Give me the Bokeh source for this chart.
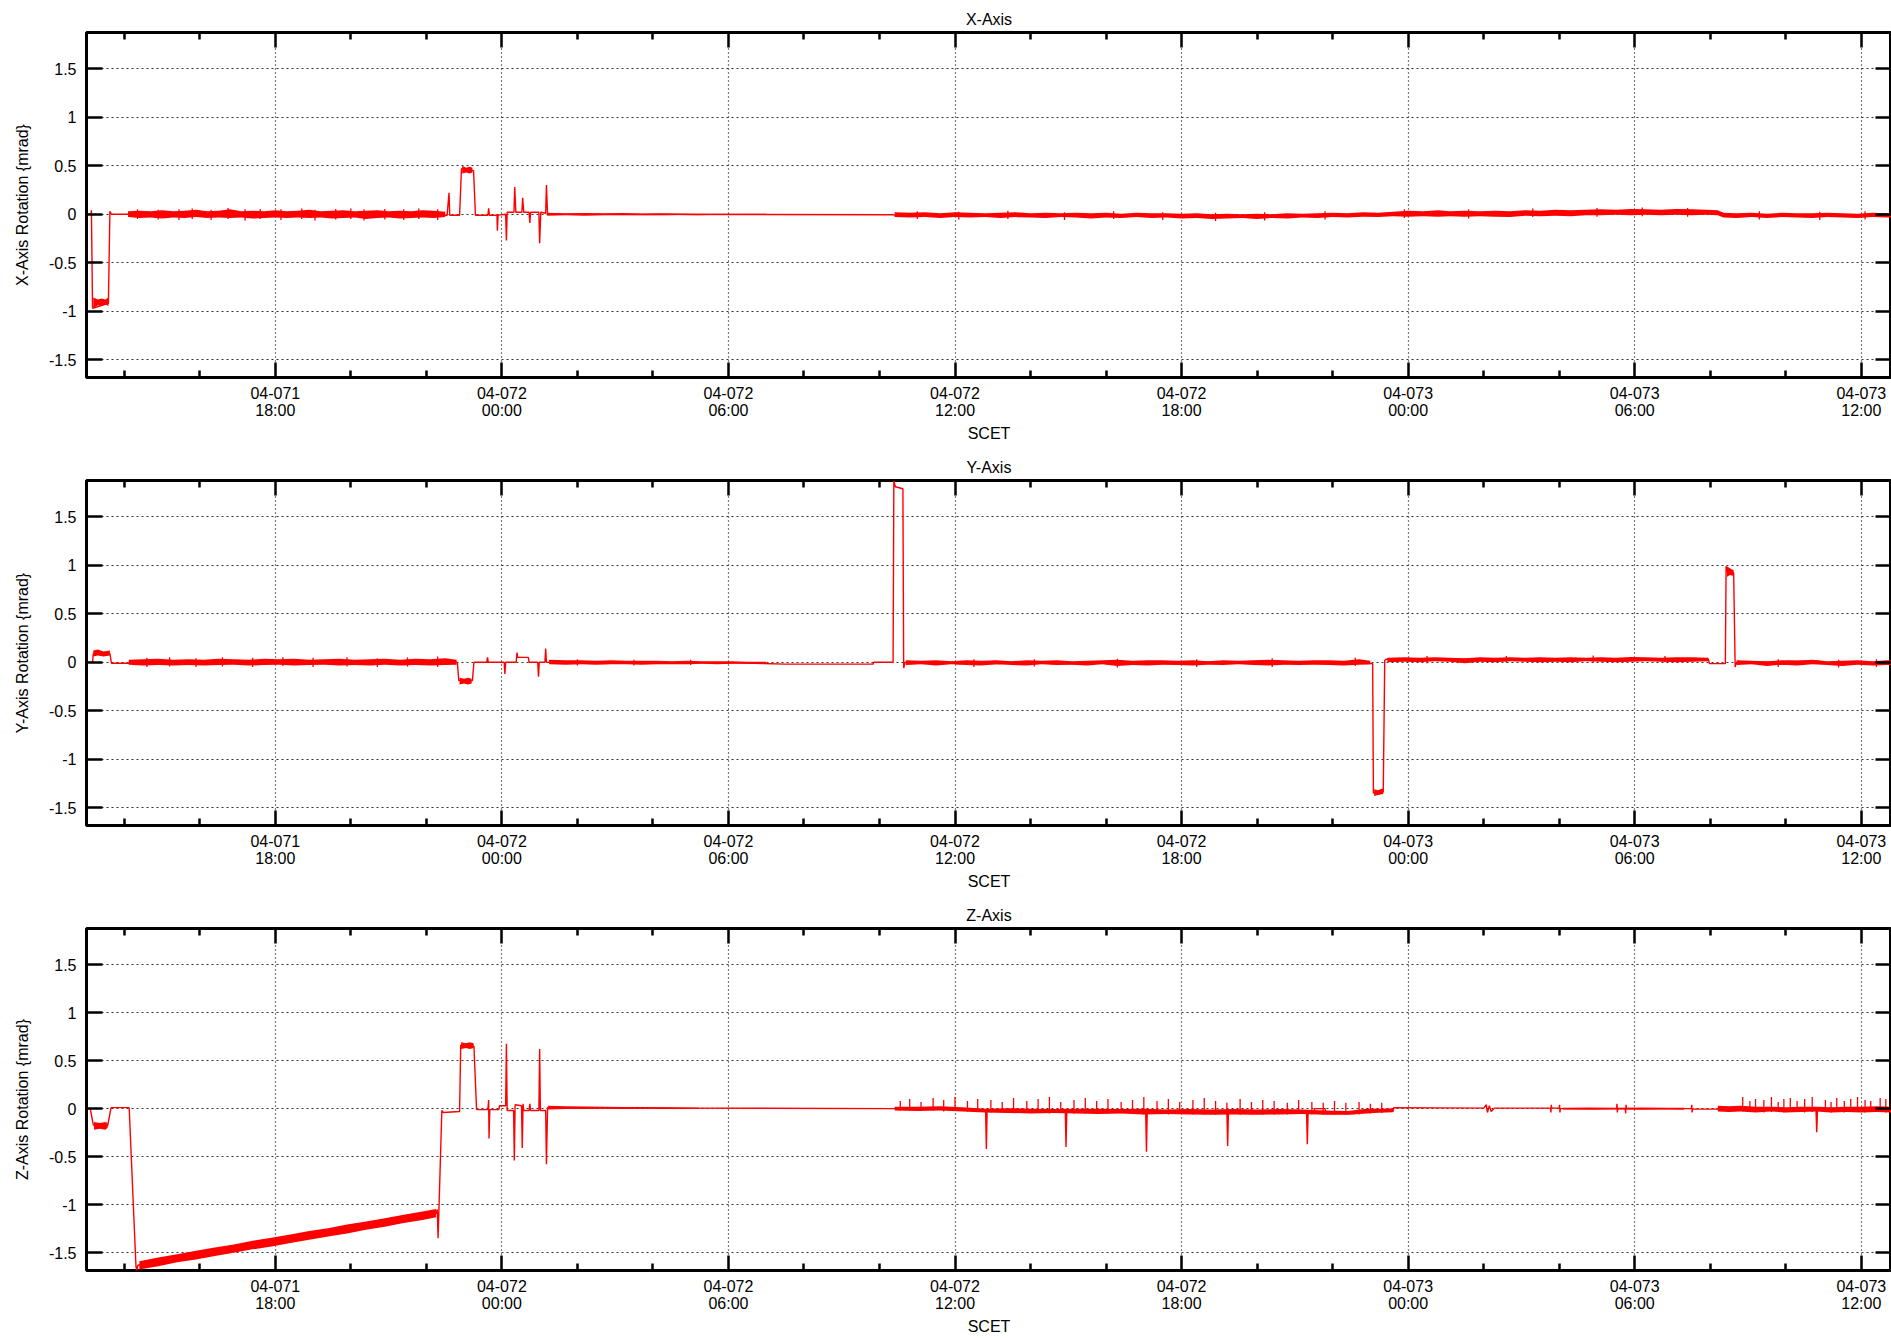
from bokeh.plotting import figure
from bokeh.layouts import column
from bokeh.models import Range1d, FixedTicker, LinearAxis, CustomLabelingPolicy
from bokeh.embed import file_html
from bokeh.resources import INLINE

FONT = "Liberation Sans"
RED = "#ff0000"

# ---------------- axes / ticks (hours since 04-071 00:00) ----------------
x_start, x_end = 13.0, 60.80
y_min, y_max = -1.685, 1.875
x_tick_hours = [18, 24, 30, 36, 42, 48, 54, 60]
x_tick_labels = ["04-071\n18:00", "04-072\n00:00", "04-072\n06:00", "04-072\n12:00",
                 "04-072\n18:00", "04-073\n00:00", "04-073\n06:00", "04-073\n12:00"]
x_minor_hours = [14, 16, 20, 22, 26, 28, 32, 34, 38, 40, 44, 46, 50, 52, 56, 58]
y_tick_values = [-1.5, -1.0, -0.5, 0.0, 0.5, 1.0, 1.5]
y_tick_labels = ["-1.5", "-1", "-0.5", "0", "0.5", "1", "1.5"]

titles = ["X-Axis", "Y-Axis", "Z-Axis"]
ylabels = ["X-Axis Rotation {mrad}", "Y-Axis Rotation {mrad}", "Z-Axis Rotation {mrad}"]
xlabel = "SCET"

# ---------------- X-axis rotation ----------------
x_base_t = [13.0, 13.12, 13.13, 13.16, 13.58, 13.62, 13.66, 14.1, 22.55, 22.6, 22.62, 22.64, 22.88,
            22.93, 23.25, 23.3, 23.63, 23.65, 23.67, 23.87, 23.88, 23.9, 24.1, 24.12, 24.14, 24.32,
            24.34, 24.37, 24.53, 24.55, 24.58, 24.72, 24.74, 24.76, 24.98, 25.0, 25.03, 25.16, 25.18,
            25.21, 34.35, 34.4, 42.3, 47.5, 51.0, 53.0, 56.3, 56.35, 61.0]
x_base_v = [0.0, 0.0, 0.04, -0.97, -0.92, 0.03, 0.0, 0.0, -0.01, 0.22, -0.01, -0.01, -0.01,
            0.47, 0.45, -0.01, -0.01, 0.06, -0.01, -0.01, -0.17, -0.01, 0.0, -0.27, 0.02, 0.02,
            0.28, 0.02, 0.02, 0.17, 0.02, 0.02, -0.09, 0.02, 0.02, -0.30, 0.02, 0.01, 0.30,
            0.0, -0.005, -0.01, -0.02, 0.0, 0.01, 0.02, 0.015, -0.01, -0.01]
x_band = [
    (13.18, -0.97, -0.86), (13.3, -0.94, -0.88), (13.4, -0.95, -0.87), (13.5, -0.93, -0.88), (13.58, -0.95, -0.86),
    None,
    (14.1, -0.03, 0.03), (14.4, -0.04, 0.035), (14.7, -0.035, 0.03), (15.0, -0.045, 0.04), (15.3, -0.035, 0.03),
    (15.6, -0.04, 0.035), (15.9, -0.03, 0.045), (16.2, -0.04, 0.03), (16.5, -0.035, 0.035), (16.8, -0.04, 0.05),
    (17.1, -0.035, 0.03), (17.4, -0.045, 0.035), (17.7, -0.04, 0.03), (18.0, -0.035, 0.04), (18.3, -0.04, 0.03),
    (18.6, -0.035, 0.035), (18.9, -0.04, 0.045), (19.2, -0.035, 0.03), (19.5, -0.045, 0.035), (19.8, -0.04, 0.04),
    (20.1, -0.035, 0.03), (20.4, -0.05, 0.035), (20.7, -0.04, 0.04), (21.0, -0.035, 0.03), (21.3, -0.045, 0.035),
    (21.6, -0.04, 0.03), (21.9, -0.035, 0.04), (22.2, -0.04, 0.035), (22.5, -0.03, 0.025),
    None,
    (22.95, 0.42, 0.50), (23.05, 0.43, 0.48), (23.15, 0.42, 0.49), (23.22, 0.43, 0.48),
    None,
    (25.2, -0.015, 0.015), (25.7, -0.012, 0.01), (26.2, -0.015, 0.012), (26.7, -0.01, 0.01), (27.2, -0.012, 0.012),
    (27.7, -0.01, 0.008), (28.2, -0.012, 0.01), (28.7, -0.008, 0.008), (29.2, -0.01, 0.006), (29.7, -0.006, 0.006),
    (30.2, -0.006, 0.005), (31.0, -0.006, 0.004),
    None,
    (34.4, -0.03, 0.02), (34.8, -0.035, 0.015), (35.2, -0.03, 0.02), (35.6, -0.04, 0.01), (36.0, -0.03, 0.02),
    (36.4, -0.035, 0.015), (36.8, -0.03, 0.01), (37.2, -0.04, 0.015), (37.6, -0.03, 0.02), (38.0, -0.035, 0.01),
    (38.4, -0.04, 0.015), (38.8, -0.03, 0.01), (39.2, -0.035, 0.015), (39.6, -0.045, 0.01), (40.0, -0.035, 0.015),
    (40.4, -0.04, 0.005), (40.8, -0.03, 0.015), (41.2, -0.04, 0.01), (41.6, -0.035, 0.01), (42.0, -0.045, 0.005),
    (42.4, -0.04, 0.01), (42.8, -0.05, 0.0), (43.2, -0.045, 0.005), (43.6, -0.04, 0.0), (44.0, -0.05, 0.005),
    (44.4, -0.04, 0.0), (44.8, -0.045, 0.01), (45.2, -0.035, 0.005), (45.6, -0.04, 0.01), (46.0, -0.03, 0.015),
    (46.4, -0.035, 0.01), (46.8, -0.025, 0.02), (47.2, -0.03, 0.015), (47.6, -0.02, 0.025), (48.0, -0.025, 0.035),
    (48.4, -0.02, 0.03), (48.8, -0.025, 0.04), (49.1, -0.02, 0.03), (49.5, -0.025, 0.035), (49.9, -0.02, 0.03),
    (50.3, -0.025, 0.035), (50.7, -0.03, 0.03), (51.1, -0.015, 0.04), (51.5, -0.02, 0.035), (51.9, -0.015, 0.045),
    (52.3, -0.02, 0.04), (52.7, -0.01, 0.045), (53.1, -0.01, 0.05), (53.5, -0.005, 0.045), (53.9, -0.01, 0.055),
    (54.3, -0.005, 0.05), (54.7, -0.01, 0.045), (55.1, -0.005, 0.055), (55.5, -0.01, 0.05), (55.9, -0.005, 0.045),
    (56.2, -0.01, 0.04), (56.35, -0.035, 0.015), (56.7, -0.04, 0.01), (57.1, -0.03, 0.015), (57.5, -0.04, 0.005),
    (57.9, -0.03, 0.015), (58.3, -0.035, 0.01), (58.7, -0.04, 0.01), (59.1, -0.03, 0.015), (59.5, -0.035, 0.01),
    (59.9, -0.04, 0.005), (60.3, -0.03, 0.015), (60.7, -0.035, 0.01), (61.0, -0.03, 0.01),
]
x_spikes = [
    (14.35, -0.05, 0.05), (14.9, -0.055, 0.045), (15.45, -0.06, 0.05), (15.8, -0.05, 0.06), (16.3, -0.06, 0.045),
    (16.75, -0.05, 0.065), (17.2, -0.065, 0.05), (17.6, -0.05, 0.055), (18.15, -0.06, 0.05), (18.7, -0.05, 0.06),
    (19.05, -0.065, 0.045), (19.6, -0.055, 0.055), (20.0, -0.05, 0.06), (20.35, -0.065, 0.05), (20.9, -0.055, 0.055),
    (21.4, -0.06, 0.05), (21.8, -0.05, 0.06), (22.3, -0.06, 0.05),
    (35.0, -0.05, 0.03), (36.1, -0.055, 0.025), (37.4, -0.05, 0.035), (38.9, -0.06, 0.02), (40.2, -0.05, 0.03),
    (41.5, -0.06, 0.02), (42.9, -0.07, 0.015), (44.2, -0.065, 0.02), (45.8, -0.055, 0.03), (47.9, -0.04, 0.05),
    (49.6, -0.045, 0.05), (51.3, -0.03, 0.06), (53.0, -0.025, 0.065), (54.2, -0.02, 0.07), (55.4, -0.025, 0.065),
    (57.3, -0.055, 0.03), (58.9, -0.06, 0.025), (60.1, -0.055, 0.03),
]

# ---------------- Y-axis rotation ----------------
y_base_t = [13.0, 13.16, 13.18, 13.62, 13.66, 14.12, 14.14, 22.82, 22.86, 23.22,
            23.26, 23.6, 23.62, 23.64, 24.06, 24.08, 24.1, 24.38, 24.4, 24.42,
            24.7, 24.72, 24.95, 24.97, 24.99, 25.14, 25.16, 25.18, 30.2, 31.5,
            33.83, 33.85, 34.36, 34.38, 34.42, 34.62, 34.64, 34.68, 36.0, 36.02,
            37.2, 37.22, 38.5, 38.52, 39.3, 39.32, 41.0, 41.02, 42.0, 42.02,
            44.0, 44.02, 44.8, 44.82, 46.8, 46.82, 47.06, 47.08, 47.34, 47.38,
            47.42, 55.95, 55.98, 56.4, 56.42, 56.46, 56.62, 56.66, 56.7, 57.5,
            57.52, 58.0, 58.02, 58.9, 58.92, 61.0]
y_base_v = [0.0, 0.0, 0.09, 0.09, -0.01, -0.01, 0.0, 0.0, -0.19, -0.19,
            0.0, 0.0, 0.05, 0.0, 0.0, -0.12, 0.0, 0.0, 0.1, 0.05,
            0.05, 0.0, 0.0, -0.15, 0.0, 0.0, 0.14, 0.0, -0.005, -0.02,
            -0.02, 0.0, 0.0, 1.87, 1.81, 1.79, -0.06, 0.0, 0.0, -0.015,
            -0.015, 0.0, 0.0, -0.015, -0.015, 0.005, 0.005, -0.015, -0.015, 0.0,
            0.0, -0.015, -0.015, 0.0, 0.0, -0.015, -0.015, -1.35, -1.34, 0.02,
            0.03, 0.03, -0.015, -0.015, 0.99, 0.93, 0.92, -0.05, 0.0, 0.0,
            -0.02, -0.02, 0.01, 0.01, -0.01, -0.01]
y_band = [
    (13.18, 0.06, 0.12), (13.3, 0.07, 0.13), (13.45, 0.06, 0.11), (13.62, 0.07, 0.12),
    None,
    (14.12, -0.025, 0.025), (14.5, -0.035, 0.03), (14.9, -0.03, 0.035), (15.3, -0.035, 0.025), (15.7, -0.03, 0.03),
    (16.1, -0.035, 0.025), (16.5, -0.03, 0.035), (16.9, -0.025, 0.03), (17.3, -0.035, 0.025), (17.7, -0.03, 0.035),
    (18.1, -0.025, 0.03), (18.5, -0.035, 0.035), (18.9, -0.03, 0.025), (19.3, -0.025, 0.03), (19.7, -0.035, 0.035),
    (20.1, -0.03, 0.025), (20.5, -0.035, 0.03), (20.9, -0.025, 0.035), (21.3, -0.035, 0.025), (21.7, -0.03, 0.035),
    (22.1, -0.035, 0.03), (22.5, -0.03, 0.04), (22.8, -0.025, 0.025),
    None,
    (22.88, -0.23, -0.16), (23.0, -0.22, -0.17), (23.1, -0.23, -0.16), (23.2, -0.22, -0.17),
    None,
    (25.25, -0.02, 0.025), (25.7, -0.025, 0.02), (26.1, -0.02, 0.02), (26.5, -0.025, 0.015), (26.9, -0.02, 0.02),
    (27.3, -0.02, 0.015), (27.7, -0.025, 0.015), (28.1, -0.02, 0.015), (28.5, -0.02, 0.01), (28.9, -0.02, 0.015),
    (29.3, -0.015, 0.01), (29.7, -0.02, 0.01), (30.1, -0.015, 0.01), (30.5, -0.015, 0.005), (31.0, -0.015, 0.005),
    None,
    (34.7, -0.03, 0.02), (35.1, -0.02, 0.015), (35.5, -0.035, 0.02), (35.9, -0.02, 0.01), (36.3, -0.03, 0.02),
    (36.7, -0.035, 0.015), (37.1, -0.02, 0.02), (37.5, -0.03, 0.01), (37.9, -0.035, 0.02), (38.3, -0.02, 0.015),
    (38.7, -0.03, 0.02), (39.1, -0.025, 0.01), (39.5, -0.035, 0.015), (39.9, -0.02, 0.02), (40.3, -0.04, 0.025),
    (40.7, -0.03, 0.015), (41.1, -0.035, 0.02), (41.5, -0.025, 0.02), (41.9, -0.03, 0.015), (42.3, -0.035, 0.02),
    (42.7, -0.025, 0.01), (43.1, -0.03, 0.02), (43.5, -0.02, 0.015), (43.9, -0.03, 0.02), (44.3, -0.035, 0.025),
    (44.7, -0.025, 0.02), (45.1, -0.03, 0.015), (45.5, -0.025, 0.02), (45.9, -0.03, 0.02), (46.3, -0.035, 0.015),
    (46.7, -0.025, 0.03), (47.0, -0.02, 0.015),
    None,
    (47.1, -1.38, -1.31), (47.2, -1.37, -1.32), (47.34, -1.36, -1.30),
    None,
    (47.45, 0.0, 0.045), (47.9, 0.005, 0.05), (48.3, 0.0, 0.045), (48.7, 0.01, 0.05), (49.1, 0.005, 0.045),
    (49.5, -0.01, 0.04), (49.9, 0.005, 0.05), (50.3, 0.0, 0.045), (50.7, 0.01, 0.05), (51.1, 0.005, 0.045),
    (51.5, 0.0, 0.05), (51.9, 0.005, 0.045), (52.3, 0.0, 0.05), (52.7, 0.01, 0.045), (53.1, 0.005, 0.05),
    (53.5, 0.0, 0.045), (53.9, 0.005, 0.055), (54.3, 0.01, 0.05), (54.7, 0.005, 0.045), (55.1, 0.0, 0.05),
    (55.5, 0.005, 0.05), (55.95, 0.01, 0.045),
    None,
    (56.44, 0.88, 0.99), (56.52, 0.90, 0.97), (56.62, 0.89, 0.95),
    None,
    (56.7, -0.03, 0.02), (57.1, -0.02, 0.015), (57.5, -0.04, 0.01), (57.9, -0.025, 0.02), (58.3, -0.035, 0.015),
    (58.7, -0.02, 0.025), (59.1, -0.03, 0.01), (59.5, -0.04, 0.015), (59.9, -0.025, 0.02), (60.3, -0.035, 0.01),
    (60.7, -0.03, 0.02), (61.0, -0.03, 0.015),
]
y_spikes = [
    (14.6, -0.05, 0.045), (15.2, -0.045, 0.05), (15.9, -0.05, 0.04), (16.6, -0.045, 0.05), (17.4, -0.05, 0.045),
    (18.2, -0.04, 0.05), (19.0, -0.05, 0.045), (19.9, -0.045, 0.05), (20.7, -0.05, 0.04), (21.5, -0.045, 0.05),
    (22.3, -0.05, 0.06), (26.0, -0.035, 0.03), (27.5, -0.035, 0.025), (29.0, -0.03, 0.025), (36.5, -0.05, 0.03),
    (38.1, -0.045, 0.03), (40.3, -0.055, 0.035), (42.4, -0.05, 0.03), (44.4, -0.05, 0.04), (46.6, -0.04, 0.045),
    (48.5, -0.01, 0.065), (50.6, -0.005, 0.065), (52.9, -0.005, 0.07), (54.8, 0.0, 0.065), (57.8, -0.05, 0.03),
    (59.4, -0.055, 0.025), (60.4, -0.05, 0.03),
]

# ---------------- Z-axis rotation ----------------
z_base_t = [13.0, 13.1, 13.18, 13.56, 13.65, 14.13, 14.31, 14.33, 14.36, 22.26,
            22.29, 22.31, 22.33, 22.41, 22.45, 22.88, 22.91, 23.26, 23.33, 23.63,
            23.65, 23.66, 23.68, 23.92, 23.94, 24.1, 24.12, 24.14, 24.31, 24.33,
            24.35, 24.52, 24.54, 24.56, 24.58, 24.72, 24.74, 24.76, 24.98, 25.0,
            25.02, 25.16, 25.18, 25.21, 29.0, 34.37, 36.5, 36.81, 36.83, 36.85,
            38.92, 38.94, 38.96, 41.05, 41.07, 41.09, 43.2, 43.22, 43.24, 45.31,
            45.33, 45.35, 45.5, 45.52, 45.8, 45.82, 46.6, 46.62, 47.6, 47.62,
            50.0, 50.07, 50.1, 50.15, 50.2, 50.28, 51.77, 51.78, 51.79, 51.8,
            52.0, 52.01, 52.02, 52.03, 53.52, 53.53, 53.54, 53.55, 53.75, 53.76,
            53.77, 53.78, 55.5, 55.51, 55.52, 55.53, 56.2, 56.9, 58.8, 58.82,
            58.84, 61.0]
z_base_v = [0.0, 0.0, -0.17, -0.18, 0.01, 0.01, -1.64, -1.69, -1.63, -1.09,
            -1.05, -1.35, -1.1, -0.02, -0.04, -0.03, 0.66, 0.65, -0.01, -0.01,
            0.09, -0.31, -0.01, -0.01, 0.03, 0.03, 0.675, -0.02, -0.02, -0.54,
            0.04, 0.03, -0.41, 0.05, -0.02, -0.02, 0.05, -0.02, -0.02, 0.62,
            -0.02, -0.02, -0.58, 0.01, 0.005, 0.0, -0.01, -0.02, -0.42, -0.02,
            -0.03, -0.40, -0.03, -0.04, -0.45, -0.04, -0.04, -0.39, -0.045, -0.04,
            -0.37, -0.04, -0.04, 0.0, 0.0, -0.05, -0.05, -0.03, -0.03, 0.01,
            0.005, 0.04, -0.04, 0.03, -0.03, 0.005, 0.005, -0.04, 0.04, 0.005,
            0.005, 0.04, -0.04, 0.0, 0.0, 0.05, -0.04, 0.0, 0.0, -0.05,
            0.04, 0.0, 0.0, 0.04, -0.04, -0.005, -0.005, 0.0, -0.01, -0.245,
            -0.01, 0.0]
z_band = [
    (13.2, -0.22, -0.14), (13.35, -0.21, -0.15), (13.5, -0.22, -0.14), (13.56, -0.20, -0.15),
    None,
    (14.4, -1.675, -1.59), (14.9, -1.64, -1.55), (15.4, -1.60, -1.515), (15.9, -1.57, -1.48), (16.4, -1.535, -1.445),
    (16.9, -1.50, -1.415), (17.4, -1.465, -1.375), (17.9, -1.435, -1.345), (18.4, -1.40, -1.31), (18.9, -1.365, -1.275),
    (19.4, -1.33, -1.245), (19.9, -1.30, -1.205), (20.4, -1.26, -1.175), (20.9, -1.23, -1.14), (21.4, -1.19, -1.105),
    (21.9, -1.16, -1.07), (22.26, -1.13, -1.045),
    None,
    (22.92, 0.62, 0.69), (23.05, 0.63, 0.68), (23.15, 0.62, 0.69), (23.25, 0.63, 0.68),
    None,
    (25.22, -0.01, 0.03), (25.7, -0.005, 0.025), (26.2, -0.005, 0.022), (26.7, -0.002, 0.02), (27.2, -0.005, 0.018),
    (27.7, -0.002, 0.016), (28.2, -0.004, 0.015), (28.7, -0.003, 0.012), (29.2, -0.002, 0.01),
    None,
    (34.4, -0.02, 0.02), (35.0, -0.025, 0.02), (35.6, -0.02, 0.025), (36.2, -0.03, 0.015), (36.8, -0.04, 0.0),
    (37.4, -0.045, 0.005), (38.0, -0.05, 0.0), (38.6, -0.045, -0.005), (39.2, -0.05, 0.0), (39.8, -0.055, 0.0),
    (40.4, -0.05, -0.005), (41.0, -0.06, 0.0), (41.6, -0.055, -0.01), (42.2, -0.06, -0.005), (42.8, -0.065, -0.01),
    (43.4, -0.06, -0.005), (44.0, -0.065, -0.01), (44.6, -0.06, -0.005), (45.2, -0.055, -0.01), (45.8, -0.065, -0.02),
    (46.4, -0.065, -0.025), (46.9, -0.05, 0.0), (47.3, -0.04, 0.0), (47.6, -0.035, 0.005),
    None,
    (52.1, -0.01, 0.01), (52.8, -0.012, 0.012), (53.5, -0.01, 0.01), (54.2, -0.012, 0.012), (54.9, -0.01, 0.01),
    (55.3, -0.012, 0.01),
    None,
    (56.2, -0.03, 0.03), (56.5, -0.035, 0.025), (56.8, -0.03, 0.03), (57.2, -0.04, 0.02), (57.6, -0.03, 0.02),
    (58.0, -0.04, 0.015), (58.4, -0.035, 0.02), (58.8, -0.03, 0.02), (59.2, -0.04, 0.015), (59.6, -0.035, 0.02),
    (60.0, -0.04, 0.02), (60.4, -0.035, 0.025), (60.8, -0.04, 0.02), (61.0, -0.035, 0.02),
]
z_spikes = [
    (34.55, -0.02, 0.08), (34.8, -0.02, 0.1), (35.1, -0.025, 0.07), (35.42, -0.02, 0.11), (35.7, -0.03, 0.09),
    (36.0, -0.02, 0.12), (36.33, -0.03, 0.08), (36.6, -0.035, 0.1), (36.95, -0.04, 0.09), (37.25, -0.04, 0.07),
    (37.55, -0.045, 0.11), (37.9, -0.04, 0.08), (38.2, -0.045, 0.1), (38.5, -0.05, 0.12), (38.8, -0.045, 0.07),
    (39.15, -0.05, 0.09), (39.45, -0.05, 0.11), (39.75, -0.055, 0.08), (40.05, -0.05, 0.1), (40.4, -0.05, 0.07),
    (40.7, -0.055, 0.09), (41.0, -0.06, 0.12), (41.35, -0.055, 0.08), (41.65, -0.06, 0.1), (41.95, -0.055, 0.07),
    (42.3, -0.06, 0.09), (42.6, -0.06, 0.11), (42.9, -0.065, 0.08), (43.2, -0.06, 0.06), (43.55, -0.065, 0.1),
    (43.85, -0.06, 0.07), (44.15, -0.065, 0.09), (44.45, -0.06, 0.08), (44.8, -0.06, 0.06), (45.1, -0.055, 0.09),
    (45.45, -0.06, 0.07), (45.75, -0.065, 0.06), (46.05, -0.065, 0.08), (46.35, -0.065, 0.06), (46.7, -0.06, 0.07),
    (47.0, -0.05, 0.05), (47.3, -0.045, 0.06),
    (56.86, -0.03, 0.12), (57.05, -0.035, 0.08), (57.2, -0.03, 0.1), (57.42, -0.04, 0.09), (57.62, -0.035, 0.12),
    (57.8, -0.03, 0.07), (57.95, -0.04, 0.1), (58.12, -0.035, 0.11), (58.3, -0.03, 0.08), (58.5, -0.04, 0.1),
    (58.7, -0.035, 0.12), (59.05, -0.03, 0.09), (59.2, -0.04, 0.07), (59.35, -0.035, 0.11), (59.55, -0.04, 0.08),
    (59.72, -0.03, 0.1), (59.9, -0.035, 0.12), (60.1, -0.04, 0.09), (60.25, -0.03, 0.08), (60.5, -0.035, 0.11),
    (60.65, -0.04, 0.1), (60.8, -0.03, 0.09),
]


def split_segments(rows):
    segs, cur = [], []
    for r in rows:
        if r is None:
            if cur:
                segs.append(cur)
            cur = []
        else:
            cur.append(r)
    if cur:
        segs.append(cur)
    return segs


def style_axis(ax, labels):
    ax.axis_line_color = None
    ax.major_tick_out = 0
    ax.minor_tick_out = 0
    ax.major_tick_line_color = "black"
    ax.minor_tick_line_color = "black"
    ax.major_tick_line_width = 2.5
    ax.minor_tick_line_width = 2.5
    ax.major_label_text_font = FONT
    ax.major_label_text_color = "black"
    ax.axis_label_text_font = FONT
    ax.axis_label_text_font_style = "normal"
    ax.axis_label_text_font_size = "16px"
    ax.axis_label_text_color = "black"
    if labels:
        ax.major_label_text_font_size = "16px"
    else:
        # mirror axis: ticks only, no labels at all
        ax.major_label_text_font_size = "0px"
        ax.major_label_standoff = 0
        ax.major_label_policy = CustomLabelingPolicy(code="return []")


def make_panel(idx, base_t, base_v, band, spikes, last=False):
    xt = FixedTicker(ticks=x_tick_hours, minor_ticks=x_minor_hours)
    yt = FixedTicker(ticks=y_tick_values, minor_ticks=[])
    p = figure(width=1891, height=442 if last else 448,
               x_range=Range1d(x_start, x_end), y_range=Range1d(y_min, y_max),
               output_backend="svg", toolbar_location=None, title=titles[idx],
               min_border_left=86, min_border_right=0, min_border_top=32,
               min_border_bottom=65 if last else 71)
    p.background_fill_color = "white"
    p.border_fill_color = "white"
    p.outline_line_color = "black"
    p.outline_line_width = 3
    p.title.align = "center"
    p.title.text_font = FONT
    p.title.text_font_size = "16px"
    p.title.text_font_style = "normal"
    p.title.text_color = "black"
    p.title.standoff = 10

    xa = p.xaxis[0]
    xa.ticker = xt
    style_axis(xa, True)
    xa.major_tick_in = 15
    xa.minor_tick_in = 7
    xa.major_label_standoff = 7
    xa.major_label_text_line_height = 1.05
    xa.major_label_overrides = {float(h): lab for h, lab in zip(x_tick_hours, x_tick_labels)}
    xa.axis_label = xlabel
    xa.axis_label_standoff = 3
    xa.axis_label_text_line_height = 1.0

    ya = p.yaxis[0]
    ya.ticker = yt
    style_axis(ya, True)
    ya.major_tick_in = 16
    ya.minor_tick_in = 0
    ya.major_label_standoff = 10
    ya.major_label_overrides = {float(v): lab for v, lab in zip(y_tick_values, y_tick_labels)}
    ya.axis_label = ylabels[idx]
    ya.axis_label_standoff = 15

    top = LinearAxis(ticker=xt)
    style_axis(top, False)
    top.major_tick_in = 15
    top.minor_tick_in = 7
    p.add_layout(top, "above")

    right = LinearAxis(ticker=yt)
    style_axis(right, False)
    right.major_tick_in = 16
    right.minor_tick_in = 0
    p.add_layout(right, "right")

    p.xgrid.ticker = xt
    p.ygrid.ticker = yt
    p.xgrid.grid_line_color = "black"
    p.xgrid.grid_line_dash = "1 3"
    p.xgrid.grid_line_width = 1.2
    p.ygrid.grid_line_color = "#333333"
    p.ygrid.grid_line_dash = "2 3"
    p.ygrid.grid_line_width = 1

    for seg in split_segments(band):
        p.varea(x=[r[0] for r in seg], y1=[r[1] for r in seg], y2=[r[2] for r in seg],
                fill_color=RED, fill_alpha=1.0)
    st = [r[0] for r in spikes]
    p.segment(x0=st, y0=[r[1] for r in spikes], x1=st, y1=[r[2] for r in spikes],
              line_color=RED, line_width=1.3)
    p.line(base_t, base_v, line_color=RED, line_width=1.4)
    return p


p1 = make_panel(0, x_base_t, x_base_v, x_band, x_spikes)
p2 = make_panel(1, y_base_t, y_base_v, y_band, y_spikes)
p3 = make_panel(2, z_base_t, z_base_v, z_band, z_spikes, last=True)

layout = column(p1, p2, p3, spacing=0)
open("out.html", "w").write(file_html(layout, INLINE))
